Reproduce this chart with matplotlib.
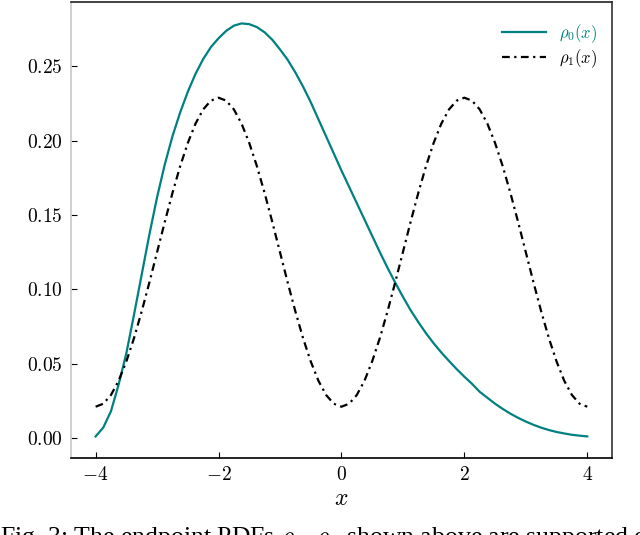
import matplotlib
matplotlib.use("Agg")
import matplotlib.pyplot as plt
from matplotlib.ticker import FuncFormatter

plt.rcParams['mathtext.fontset'] = 'cm'
plt.rcParams['font.family'] = ['DejaVu Serif']

# values, step 0.125 on [-4, 4]
x_vals = [-4.0, -3.875, -3.75, -3.625, -3.5, -3.375, -3.25, -3.125,
          -3.0, -2.875, -2.75, -2.625, -2.5, -2.375, -2.25, -2.125,
          -2.0, -1.875, -1.75, -1.625, -1.5, -1.375, -1.25, -1.125,
          -1.0, -0.875, -0.75, -0.625, -0.5, -0.375, -0.25, -0.125,
          0.0, 0.125, 0.25, 0.375, 0.5, 0.625, 0.75, 0.875,
          1.0, 1.125, 1.25, 1.375, 1.5, 1.625, 1.75, 1.875,
          2.0, 2.125, 2.25, 2.375, 2.5, 2.625, 2.75, 2.875,
          3.0, 3.125, 3.25, 3.375, 3.5, 3.625, 3.75, 3.875, 4.0]
rho0 = [0.001, 0.007, 0.018, 0.036, 0.057, 0.083, 0.110, 0.137,
        0.162, 0.184, 0.203, 0.219, 0.233, 0.245, 0.255, 0.263,
        0.269, 0.274, 0.2775, 0.279, 0.2785, 0.2765, 0.273, 0.268,
        0.2615, 0.2545, 0.246, 0.2365, 0.226, 0.2145, 0.203, 0.1915,
        0.180, 0.169, 0.158, 0.147, 0.136, 0.125, 0.1145, 0.1045,
        0.095, 0.086, 0.078, 0.0705, 0.0637, 0.0575, 0.0518, 0.0463,
        0.0412, 0.0364, 0.031, 0.027, 0.023, 0.0195, 0.0163, 0.0135,
        0.011, 0.0088, 0.0069, 0.0053, 0.004, 0.003, 0.0021, 0.0015, 0.001]
rho1 = [0.021, 0.023, 0.0289, 0.0385, 0.0515, 0.0672, 0.0852, 0.1047,
        0.125, 0.1453, 0.1648, 0.1828, 0.1985, 0.2115, 0.2211, 0.227,
        0.229, 0.227, 0.2211, 0.2115, 0.1985, 0.1828, 0.1648, 0.1453,
        0.125, 0.1047, 0.0852, 0.0672, 0.0515, 0.0385, 0.0289, 0.023,
        0.021, 0.023, 0.0289, 0.0385, 0.0515, 0.0672, 0.0852, 0.1047,
        0.125, 0.1453, 0.1648, 0.1828, 0.1985, 0.2115, 0.2211, 0.227,
        0.229, 0.227, 0.2211, 0.2115, 0.1985, 0.1828, 0.1648, 0.1453,
        0.125, 0.1047, 0.0852, 0.0672, 0.0515, 0.0385, 0.0289, 0.023, 0.021]

x_ticks = [-4, -2, 0, 2, 4]
y_ticks = [0.00, 0.05, 0.10, 0.15, 0.20, 0.25]

fig = plt.figure(figsize=(6.4, 5.35), dpi=100)
ax = fig.add_axes([0.111, 0.144, 0.845, 0.8525])

ax.plot(x_vals, rho0, color='teal', lw=1.6, label=r'$\rho_0(x)$')
ax.plot(x_vals, rho1, color='black', lw=1.6, linestyle=(0, (3.5, 2, 1, 2)),
        label=r'$\rho_1(x)$')

ax.set_xlim(-4.4, 4.4)
ax.set_ylim(-0.0135, 0.2935)
ax.set_xticks(x_ticks)
ax.set_yticks(y_ticks)
ax.xaxis.set_major_formatter(FuncFormatter(lambda v, p: f"${v:g}$"))
ax.yaxis.set_major_formatter(FuncFormatter(lambda v, p: f"${v:.2f}$"))
ax.tick_params(direction='in', length=4, width=0.8, labelsize=14, pad=6)
ax.spines['left'].set_color('#c8c8c8')
ax.spines['top'].set_color('#222222')
ax.spines['right'].set_color('#333333')
ax.spines['bottom'].set_color('black')
for s in ax.spines.values():
    s.set_linewidth(1.2)

ax.set_xlabel(r'$x$', fontsize=17, labelpad=2)

leg = ax.legend(loc='upper right', bbox_to_anchor=(1.01, 1.0), frameon=False,
                fontsize=12, handlelength=2.6, borderaxespad=0.8,
                labelspacing=0.15)
leg.get_texts()[0].set_color('teal')

# caption of the paper figure, cut by the lower edge as in the source
fig.text(0.0, 0.019, r'Fig. 3: The endpoint PDFs $\rho_0, \rho_1$ shown above are supported on',
         fontsize=18.5, family='Liberation Serif', va='top', ha='left')

fig.savefig('out.png', dpi=100)
